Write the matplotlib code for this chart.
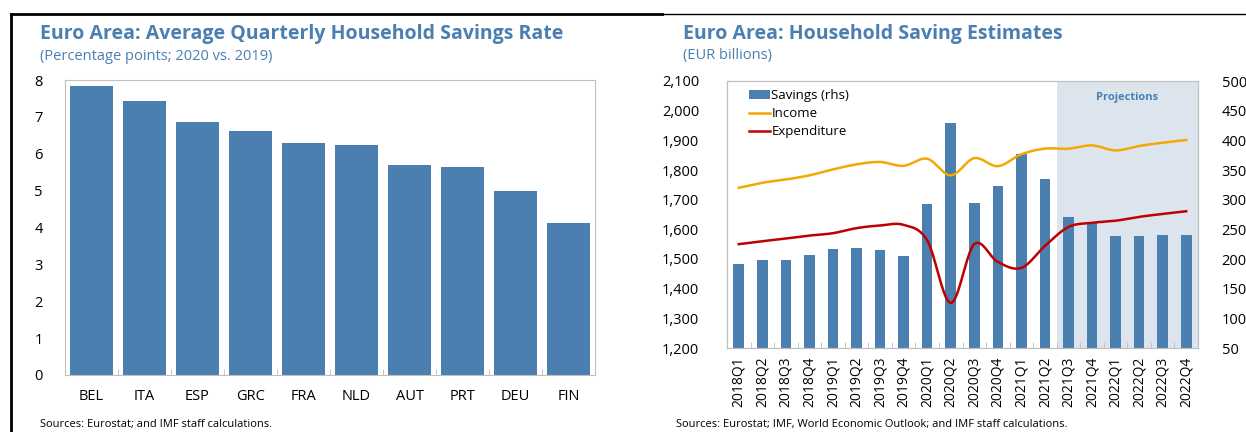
import numpy as np
import matplotlib
matplotlib.use("Agg")
import matplotlib.pyplot as plt
from matplotlib.lines import Line2D
from matplotlib.patches import Patch
from matplotlib.ticker import FuncFormatter, FixedLocator

plt.rcParams['font.family'] = ['Open Sans', 'DejaVu Sans']

# --- left chart data ---
countries = ["BEL", "ITA", "ESP", "GRC", "FRA", "NLD", "AUT", "PRT", "DEU", "FIN"]
savings_rate_change = [7.84, 7.43, 6.86, 6.63, 6.29, 6.25, 5.70, 5.64, 5.00, 4.13]

# --- right chart data ---
quarters = ["2018Q1", "2018Q2", "2018Q3", "2018Q4",
            "2019Q1", "2019Q2", "2019Q3", "2019Q4",
            "2020Q1", "2020Q2", "2020Q3", "2020Q4",
            "2021Q1", "2021Q2", "2021Q3", "2021Q4",
            "2022Q1", "2022Q2", "2022Q3", "2022Q4"]
savings = [192, 198, 199, 207, 217, 219, 215, 205, 292, 430, 294, 323,
           377, 334, 271, 263, 239, 239, 241, 241]
income = [1740, 1757, 1768, 1782, 1802, 1819, 1827, 1814, 1838, 1782, 1840, 1813,
          1853, 1872, 1872, 1883, 1866, 1881, 1892, 1901]
expenditure = [1550, 1560, 1569, 1579, 1587, 1604, 1613, 1615, 1563, 1352, 1550, 1490,
               1470, 1544, 1608, 1622, 1629, 1642, 1652, 1661]
first_projection = "2021Q3"

BLUE = "#4a7fb0"
TITLE = "#4a7fb0"
GOLD = "#f2a900"
RED = "#c00000"
SHADE = "#dce5ee"
SPINE = "#bfbfbf"


def smooth(y, n=20):
    """Hermite / Catmull-Rom smoothing like an Excel smoothed line."""
    y = np.asarray(y, dtype=float)
    x = np.arange(len(y))
    m = np.gradient(y)
    xs, ys = [], []
    for i in range(len(y) - 1):
        t = np.linspace(0, 1, n, endpoint=False)
        h00 = 2 * t**3 - 3 * t**2 + 1
        h10 = t**3 - 2 * t**2 + t
        h01 = -2 * t**3 + 3 * t**2
        h11 = t**3 - t**2
        xs.append(x[i] + t)
        ys.append(h00 * y[i] + h10 * m[i] + h01 * y[i + 1] + h11 * m[i + 1])
    xs.append([x[-1]])
    ys.append([y[-1]])
    return np.concatenate(xs), np.concatenate(ys)


fig = plt.figure(figsize=(12.46, 4.32), dpi=100)

# frame lines of the panel
fig.add_artist(Line2D([11 / 1246, 11 / 1246], [0, 1 - 14 / 432], color="black", lw=2))
fig.add_artist(Line2D([11 / 1246, 662 / 1246], [1 - 14 / 432] * 2, color="black", lw=2))
fig.add_artist(Line2D([662 / 1246, 1], [1 - 14 / 432] * 2, color="black", lw=1))

# ---------------- left chart ----------------
ax1 = fig.add_axes([65 / 1246, 1 - 375 / 432, (595 - 65) / 1246, (375 - 80) / 432])
xl = np.arange(len(countries))
ax1.bar(xl, savings_rate_change, width=0.81, color=BLUE, zorder=2)
ax1.set_xlim(-0.5, len(countries) - 0.5)
ax1.set_ylim(0, 8)
ax1.set_yticks(range(0, 9))
ax1.set_xticks(xl)
ax1.set_xticklabels(countries)
ax1.xaxis.set_minor_locator(FixedLocator(np.arange(0.5, len(countries) - 0.5, 1)))
ax1.tick_params(axis="both", which="major", length=0, labelsize=10.5, colors="black")
ax1.tick_params(axis="y", pad=16)
ax1.tick_params(axis="x", pad=10)
ax1.tick_params(axis="x", which="minor", direction="in", length=4, color=SPINE)
for s in ax1.spines.values():
    s.set_color(SPINE)

fig.text(40 / 1246, 1 - 34 / 432, "Euro Area: Average Quarterly Household Savings Rate",
         color=TITLE, fontsize=14, fontweight="bold", va="center")
fig.text(40 / 1246, 1 - 56 / 432, "(Percentage points; 2020 vs. 2019)",
         color=TITLE, fontsize=10.5, va="center")
fig.text(40 / 1246, 1 - 425 / 432, "Sources: Eurostat; and IMF staff calculations.",
         fontsize=8, va="center")

# ---------------- right chart ----------------
ax2 = fig.add_axes([727 / 1246, 1 - 348 / 432, (1198 - 727) / 1246, (348 - 81) / 432])
ax3 = ax2.twinx()
xq = np.arange(len(quarters))
p0 = quarters.index(first_projection)

# shaded projection area sits behind the bars (bars live on the twin axis)
ax3.axvspan(p0 - 0.5, len(quarters) - 0.5, color=SHADE, zorder=0, lw=0)
ax3.bar(xq, savings, width=0.45, color=BLUE, zorder=2)
sx, sy = smooth(income)
ax2.plot(sx, sy, color=GOLD, lw=1.8, zorder=3)
ex, ey = smooth(expenditure)
ax2.plot(ex, ey, color=RED, lw=1.8, zorder=3)

ax2.set_zorder(ax3.get_zorder() + 1)
ax2.patch.set_visible(False)

ax2.set_xlim(-0.5, len(quarters) - 0.5)
ax2.set_ylim(1200, 2100)
ax3.set_ylim(50, 500)
ax2.set_yticks(range(1200, 2101, 100))
ax3.set_yticks(range(50, 501, 50))
ax2.yaxis.set_major_formatter(FuncFormatter(lambda v, p: f"{v:,.0f}"))
ax2.set_xticks(xq)
ax2.set_xticklabels(quarters, rotation=90)
ax2.xaxis.set_minor_locator(FixedLocator(np.arange(0.5, len(quarters) - 0.5, 1)))
ax2.tick_params(axis="both", which="major", length=0, labelsize=10.5)
ax2.tick_params(axis="x", labelsize=10, pad=6)
ax2.tick_params(axis="y", pad=20)
ax3.tick_params(axis="y", length=0, labelsize=10.5, pad=17)
ax2.tick_params(axis="x", which="minor", direction="in", length=4, color=SPINE)
for a in (ax2, ax3):
    for s in a.spines.values():
        s.set_color(SPINE)

ax2.text((p0 + len(quarters) - 1) / 2, 2043, "Projections", ha="center", va="center",
         color=TITLE, fontsize=8, fontweight="bold")

handles = [Patch(facecolor=BLUE, label="Savings (rhs)"),
           Line2D([], [], color=GOLD, lw=1.8, label="Income"),
           Line2D([], [], color=RED, lw=1.8, label="Expenditure")]
ax2.legend(handles=handles, loc="upper left", bbox_to_anchor=(0.03, 1.0), frameon=False,
           fontsize=9.5, handlelength=1.6, handletextpad=0.1, labelspacing=0.4,
           borderaxespad=0.2)

fig.text(683 / 1246, 1 - 34 / 432, "Euro Area: Household Saving Estimates",
         color=TITLE, fontsize=14, fontweight="bold", va="center")
fig.text(683 / 1246, 1 - 56 / 432, "(EUR billions)", color=TITLE, fontsize=10.5, va="center")
fig.text(676 / 1246, 1 - 425 / 432,
         "Sources: Eurostat; IMF, World Economic Outlook; and IMF staff calculations.",
         fontsize=8, va="center")

fig.savefig("out.png", dpi=100)
